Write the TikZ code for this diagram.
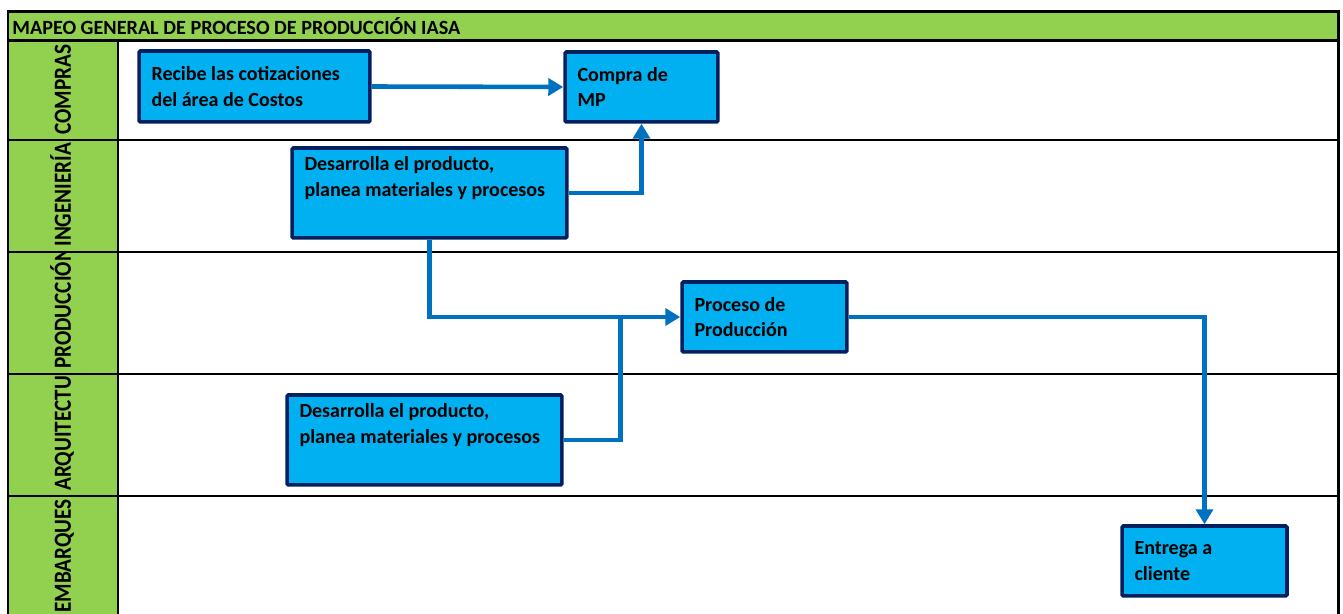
\documentclass[tikz,border=0pt]{standalone}
\usepackage{fontspec}
\setmainfont{Carlito}
\newfontfamily\narrowfont[FakeStretch=0.86]{Carlito}
\usetikzlibrary{arrows.meta}
\definecolor{xlGreen}{RGB}{146,208,80}
\definecolor{xlCyan}{RGB}{0,176,240}
\definecolor{xlNavy}{RGB}{0,32,96}
\definecolor{xlBlue}{RGB}{0,112,192}

\begin{document}
\begin{tikzpicture}[x=0.02cm, y=-0.02cm,
  grid/.style={black, line width=1.7pt},
  task/.style={draw=xlNavy, fill=xlCyan, line width=2pt, rounded corners=0.8pt,
    inner xsep=0.25cm, inner ysep=0pt, align=flush left,
    font=\fontsize{11.4}{14.5}\selectfont\bfseries},
  link/.style={xlBlue, line width=2.6pt},
  flow/.style={link, -{Triangle[length=0.3cm, width=0.34cm]}},
  lane/.style={rotate=90, anchor=base west, inner sep=0pt,
    font=\narrowfont\fontsize{14}{16}\selectfont\bfseries}]

  \useasboundingbox (0,0) rectangle (1343,614);

  % green header and lane column
  \fill[xlGreen] (8,12) rectangle (1338,41);
  \fill[xlGreen] (8,41) rectangle (118,614);

  % title
  \node[anchor=base west, inner sep=0pt, font=\fontsize{11.5}{14}\selectfont\bfseries]
    (title) at (12,35) {MAPEO GENERAL DE PROCESO DE PRODUCCIÓN IASA};

  % lane names, clipped to their cells
  \begin{scope}
    \clip (8,41) rectangle (118,140);
    \node[lane] (lCompras) at (71,135) {COMPRAS};
  \end{scope}
  \begin{scope}
    \clip (8,140) rectangle (118,252);
    \node[lane] (lIngenieria) at (71,247) {INGENIERÍA};
  \end{scope}
  \begin{scope}
    \clip (8,252) rectangle (118,374);
    \node[lane] (lProduccion) at (71,369) {PRODUCCIÓN};
  \end{scope}
  \begin{scope}
    \clip (8,374) rectangle (118,496);
    \node[lane] (lArquitectura) at (71,491) {ARQUITECTURA};
  \end{scope}
  \begin{scope}
    \clip (8,496) rectangle (118,614);
    \node[lane] (lEmbarques) at (71,613) {EMBARQUES};
  \end{scope}

  % table lines
  \draw[grid] (8,614) -- (8,12) -- (1338,12) -- (1338,614);
  \draw[grid] (8,41) -- (1338,41);
  \draw[grid] (118,41) -- (118,614);
  \draw[grid] (8,140) -- (1338,140);
  \draw[grid] (8,252) -- (1338,252);
  \draw[grid] (8,374) -- (1338,374);
  \draw[grid] (8,496) -- (1338,496);

  % process boxes
  \node[task, text width=4.12cm, minimum height=1.42cm] (recibe) at (254.5,86.5)
    {Recibe las cotizaciones\\ del área de Costos};
  \node[task, text width=2.56cm, minimum height=1.40cm] (compra) at (641.5,87)
    {Compra de\\ MP};
  \node[task, text width=5.00cm, minimum height=1.80cm] (desIng) at (429.5,193)
    {Desarrolla el producto,\\ planea materiales y procesos\\ \strut};
  \node[task, text width=2.80cm, minimum height=1.40cm] (proceso) at (764.5,317)
    {Proceso de\\ Producción};
  \node[task, text width=5.00cm, minimum height=1.80cm] (desArq) at (424.5,440)
    {Desarrolla el producto,\\ planea materiales y procesos\\ \strut};
  \node[task, text width=2.80cm, minimum height=1.40cm] (entrega) at (1204.5,561)
    {Entrega a\\ cliente};

  % connectors
  \draw[flow] (recibe.east) -- (compra.west);
  \draw[flow] (desIng.east) -| (compra.south);
  \draw[flow] (desIng.south) |- (proceso.west);
  \path (proceso.west) ++(-60,0) coordinate (join);
  \draw[link] (desArq.east) -| (join);
  \draw[flow] (proceso.east) -| (entrega.north);

\end{tikzpicture}
\end{document}
